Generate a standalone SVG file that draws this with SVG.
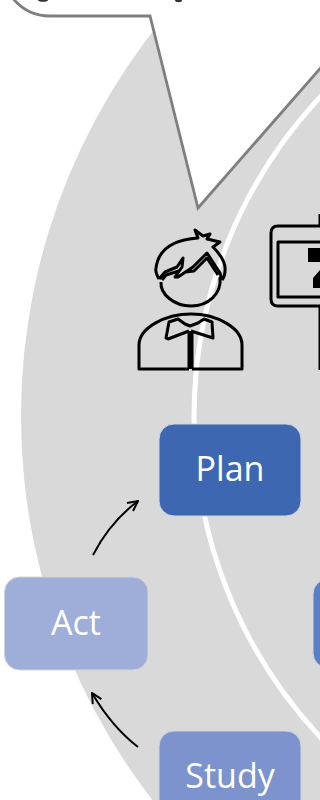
<svg xmlns="http://www.w3.org/2000/svg" width="320" height="800" viewBox="0 0 320 800">
<style>
.n{stroke:#d2d4dc;stroke-width:1}
.t{font-family:"Open Sans","Noto Sans",sans-serif;font-size:34px;fill:#fff;text-anchor:middle}
.ic{fill:none;stroke:#000;stroke-width:3;stroke-linejoin:round}
.ar{fill:none;stroke:#000;stroke-width:2}
</style>
<defs><marker id="a" viewBox="0 0 12 12" refX="11" refY="6" markerWidth="12" markerHeight="12" orient="auto" markerUnits="userSpaceOnUse"><path d="M1 1L11 6L1 11" fill="none" stroke="#000" stroke-width="2"/></marker></defs>
<rect width="320" height="800" fill="#fff"/>
<circle id="outer" cx="648" cy="416" r="627" fill="#d9d9d9"/>
<circle id="ring" cx="663" cy="417" r="469" fill="#d9d9d9" stroke="#fff" stroke-width="5"/>
<g id="callout"><path d="M11 -4Q26 16 50 16L150 16L198 208L324 64L324 -10L11 -10Z" fill="#fff" stroke="#7f7f7f" stroke-width="2.800"/><ellipse cx="43" cy="0" rx="5" ry="1.800" fill="#333"/><ellipse cx="178.500" cy="0" rx="3.500" ry="2.200" fill="#333"/></g>
<g id="person" class="ic">
<path d="M159 279Q155 272 156 268C158 252 170 240 198 238L195 230L203 236L210 234L207 239L220 242L213 247C218 252 226 262 225 271Q225 276 222 280"/>
<path d="M159 279L165 272L177 267L183 258L182 267L175 277L178 277L193 267L207 253L220 273L222 280"/>
<path d="M162 280L166 275L179 271M185 272L194 271L207 258L218 275"/>
<path d="M161 282C160 294 174 306 191 306C208 306 222 294 220 277"/>
<path d="M189 369H139V345C139 328 165 314 191 314C217 314 242 328 242 345V369H192"/>
<path d="M189 369V331M192 369V331"/>
<path d="M189 331L168 339L166 338L169 322L178 319L185 324L190 326L198 323L204 319L212 322L213 338L191 331"/>
</g>
<g id="sign" class="ic">
<path d="M320 226H278Q271 226 271 233V299Q271 306 278 306H320"/>
<path d="M320 242H278V297H320"/>
<path d="M319.500 214V226M319.500 306V370" stroke-width="2"/>
<path d="M308 248H320V262H308ZM313 288V278L320 270V288Z" fill="#000" stroke="none"/>
</g>
<g id="connectors">
<path class="ar" d="M93 555Q110 522 138 501" marker-end="url(#a)"/>
<path class="ar" d="M138 747Q112 727 92 693" marker-end="url(#a)"/>
</g>
<g id="plan"><rect class="n" x="159" y="424" width="142" height="92" rx="15" fill="#3e67b1"/><text class="t" x="230" y="481">Plan</text></g>
<g id="act"><rect class="n" x="4.500" y="577" width="143.500" height="93" rx="15" fill="#9fadd9"/><text class="t" x="76" y="635">Act</text></g>
<g id="study"><rect class="n" x="159" y="731" width="142" height="92" rx="15" fill="#7c93cd"/><text class="t" x="230" y="788">Study</text></g>
<g id="do"><rect class="n" x="313" y="579" width="40" height="89" rx="15" fill="#5b7fc7"/></g>
</svg>
